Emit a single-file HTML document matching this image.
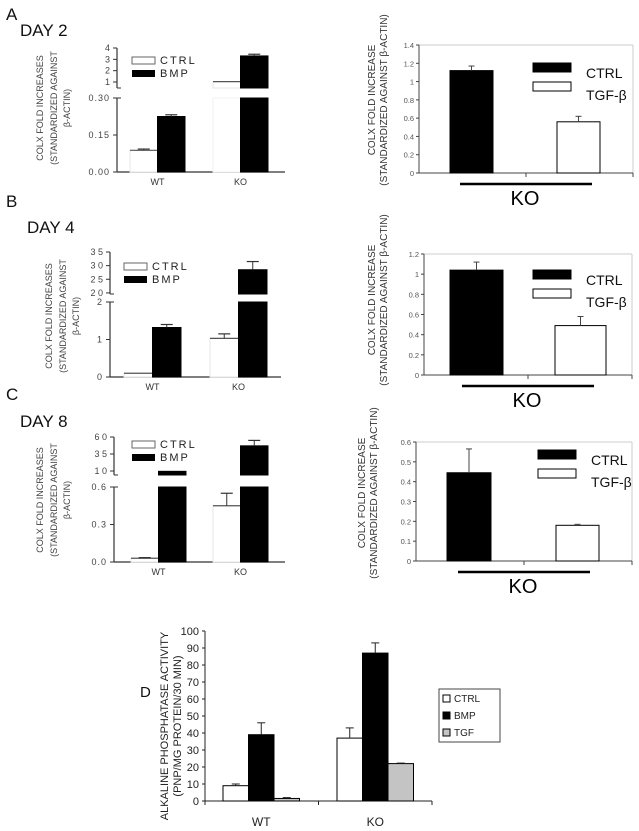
<!DOCTYPE html>
<html><head><meta charset="utf-8">
<style>
html,body{margin:0;padding:0;background:#fff;}
svg{display:block;font-family:"Liberation Sans",Arial,sans-serif;}
</style></head>
<body>
<svg id="fig" width="639" height="831" viewBox="0 0 639 831" xmlns="http://www.w3.org/2000/svg">
  <g fill="#111">
    <text x="6" y="20" font-size="17">A</text>
    <text x="20" y="36" font-size="17">DAY 2</text>
    <text x="6" y="207" font-size="17">B</text>
    <text x="27" y="233" font-size="17">DAY 4</text>
    <text x="6" y="400" font-size="17">C</text>
    <text x="20" y="427" font-size="17">DAY 8</text>
    <text x="140" y="697" font-size="15">D</text>
  </g>
</svg>
<script>
const NS="http://www.w3.org/2000/svg";
const svg=document.getElementById('fig');
function mk(tag,attrs,parent,txt){const e=document.createElementNS(NS,tag);for(const k in attrs)e.setAttribute(k,attrs[k]);if(txt!==undefined)e.textContent=txt;(parent||svg).appendChild(e);return e;}

// ===== Data: left broken-axis charts (COLX, CTRL vs BMP) =====
const leftGroups=["WT","KO"];
const dayA_ctrl=[0.088,1.03]; const dayA_ctrlErr=[0.093,1.05];
const dayA_bmp=[0.225,3.3];   const dayA_bmpErr=[0.232,3.45];
const dayA_lowTicks=[0,0.15,0.30]; const dayA_lowLabels=["0.00","0.15","0.30"];
const dayA_upTicks=[1,2,3,4]; const dayA_upLabels=["1","2","3","4"];
const dayB_ctrl=[0.1,1.03];   const dayB_ctrlErr=[0.11,1.15];
const dayB_bmp=[1.32,28.5];   const dayB_bmpErr=[1.4,31.5];
const dayB_lowTicks=[0,1,2]; const dayB_lowLabels=["0","1","2"];
const dayB_upTicks=[20,25,30,35]; const dayB_upLabels=["2 0","2 5","3 0","3 5"];
const dayC_ctrl=[0.03,0.45];  const dayC_ctrlErr=[0.035,0.55];
const dayC_bmp=[0.95,4.7];    const dayC_bmpErr=[0.95,5.5];
const dayC_lowTicks=[0,0.3,0.6]; const dayC_lowLabels=["0.0","0.3","0.6"];
const dayC_upTicks=[1,3.5,6]; const dayC_upLabels=["1 0","3 5","6 0"];

// ===== Data: right charts (KO, CTRL vs TGF-beta) =====
const rightSeries=["CTRL","TGF-β"];
const rightA_vals=[1.12,0.56]; const rightA_err=[1.17,0.62];
const rightB_vals=[1.04,0.49]; const rightB_err=[1.12,0.58];
const rightC_vals=[0.445,0.18]; const rightC_err=[0.565,0.185];
const rightA_ticks=[0,0.2,0.4,0.6,0.8,1,1.2,1.4];
const rightB_ticks=[0,0.2,0.4,0.6,0.8,1,1.2];
const rightC_ticks=[0,0.1,0.2,0.3,0.4,0.5,0.6];

// ===== Data: panel D (ALP activity) =====
const dGroups=["WT","KO"];
const dCtrl=[9,37]; const dCtrlErr=[10,43];
const dBmp=[39,87]; const dBmpErr=[46,93];
const dTgf=[1.5,22]; const dTgfErr=[2,22.3];
const dTicks=[0,10,20,30,40,50,60,70,80,90,100];

// ---------- left broken-axis chart ----------
function leftChart(name,L,ctrl,ctrlE,bmp,bmpE,lowT,lowL,upT,upL){
  const g=mk('g',{});
  
  
  const yLow=v=>L.y0-(v/L.lowMax)*(L.y0-L.lowTop);
  const yUp=v=>L.upBot-(v-L.upMin)/(L.upMax-L.upMin)*(L.upBot-L.upTop);
  mk('line',{x1:L.ax,y1:L.y0,x2:L.ax,y2:L.lowTop,stroke:'#333','stroke-width':1.2},g);
  mk('line',{x1:L.ax,y1:L.upBot,x2:L.ax,y2:L.upTop,stroke:'#333','stroke-width':1.2},g);
  mk('line',{x1:L.ax,y1:L.lowTop,x2:L.ax+4,y2:L.lowTop,stroke:'#333'},g);
  mk('line',{x1:L.ax,y1:L.upBot,x2:L.ax+4,y2:L.upBot,stroke:'#333'},g);
  mk('line',{x1:L.ax,y1:L.y0,x2:L.xEnd,y2:L.y0,stroke:'#333','stroke-width':1.2},g);
  lowT.forEach((t,i)=>{const y=yLow(t);
    mk('line',{x1:L.ax-4,y1:y,x2:L.ax,y2:y,stroke:'#333'},g);
    const tx=mk('text',{x:L.ax-7,y:y+3,'font-size':9,'text-anchor':'end',fill:'#444','letter-spacing':'1'},g,lowL[i]);
    
    });
  upT.forEach((t,i)=>{const y=yUp(t);
    mk('line',{x1:L.ax-4,y1:y,x2:L.ax,y2:y,stroke:'#333'},g);
    const tx=mk('text',{x:L.ax-7,y:y+3,'font-size':9,'text-anchor':'end',fill:'#444'},g,upL[i]);
    
    });
  function bar(x,v,e,fill,nm){
    const stroke=fill==='#fff'?'#e4e4e4':'#000';
    if(v<=L.lowMax){
      const r=mk('rect',{x:x,y:yLow(v),width:L.bw,height:L.y0-yLow(v),fill:fill,stroke:stroke,'stroke-width':1},g);
      
      
    } else {
      const r=mk('rect',{x:x,y:L.lowTop,width:L.bw,height:L.y0-L.lowTop,fill:fill,stroke:fill==='#fff'?'#f2f2f2':stroke,'stroke-width':1},g);
      
      
      const r2=mk('rect',{x:x,y:yUp(v),width:L.bw,height:Math.max(1,L.upBot-yUp(v)),fill:fill,stroke:stroke,'stroke-width':1},g);
      
      
    }
    const yv=v<=L.lowMax?yLow(v):yUp(v), ye=e<=L.lowMax?yLow(e):yUp(e);
    const cx=x+L.bw/2;
    if(fill==='#fff') mk('line',{x1:x,y1:yv,x2:x+L.bw,y2:yv,stroke:'#555','stroke-width':1.2},g);
    if(ye<yv-0.5){
      mk('line',{x1:cx,y1:yv,x2:cx,y2:ye,stroke:'#333'},g);
      mk('line',{x1:cx-6,y1:ye,x2:cx+6,y2:ye,stroke:'#333','stroke-width':1.2},g);
    }
  }
  leftGroups.forEach((grp,i)=>{
    const x=L.gx[i];
    bar(x,ctrl[i],ctrlE[i],'#fff','bar-ctrl-'+grp.toLowerCase());
    bar(x+L.bw,bmp[i],bmpE[i],'#000','bar-bmp-'+grp.toLowerCase());
    const t=mk('text',{x:x+L.bw,y:L.y0+13,'font-size':9,'text-anchor':'middle',fill:'#333'},g,grp);
    
    
  });
  const lg=mk('g',{},g);
  
  
  mk('rect',{x:L.lx,y:L.ly,width:23,height:7,fill:'#fff',stroke:'#666'},lg);
  mk('text',{x:L.lx+28,y:L.ly+7,'font-size':11,fill:'#222','letter-spacing':'2'},lg,'CTRL');
  mk('rect',{x:L.lx,y:L.ly+13,width:23,height:7,fill:'#000'},lg);
  mk('text',{x:L.lx+28,y:L.ly+20,'font-size':11,fill:'#222','letter-spacing':'2'},lg,'BMP');
  const yl=mk('text',{transform:`translate(${L.ylx},${L.yly}) rotate(-90)`,'font-size':9,'text-anchor':'middle',fill:'#444'},g);
  
  
  mk('tspan',{x:0,y:0},yl,'COLX FOLD INCREASES');
  mk('tspan',{x:0,y:14},yl,'(STANDARDIZED AGAINST');
  mk('tspan',{x:0,y:27},yl,'β-ACTIN)');
}
leftChart('chart-day2-bmp',{ax:117,y0:172,lowTop:98,lowMax:0.30,upBot:88,upTop:48,upMin:0.47,upMax:4,xEnd:285,gx:[130,213],bw:27.5,lx:132,ly:57,ylx:43,yly:108},dayA_ctrl,dayA_ctrlErr,dayA_bmp,dayA_bmpErr,dayA_lowTicks,dayA_lowLabels,dayA_upTicks,dayA_upLabels);
leftChart('chart-day4-bmp',{ax:110,y0:377,lowTop:302,lowMax:2,upBot:294,upTop:252,upMin:19.6,upMax:35,xEnd:281,gx:[124,210],bw:28.5,lx:124,ly:263,ylx:52,yly:316},dayB_ctrl,dayB_ctrlErr,dayB_bmp,dayB_bmpErr,dayB_lowTicks,dayB_lowLabels,dayB_upTicks,dayB_upLabels);
leftChart('chart-day8-bmp',{ax:114,y0:562,lowTop:487,lowMax:0.6,upBot:475,upTop:437,upMin:0.41,upMax:6,xEnd:285,gx:[131,213],bw:27.5,lx:132,ly:441,ylx:43,yly:500},dayC_ctrl,dayC_ctrlErr,dayC_bmp,dayC_bmpErr,dayC_lowTicks,dayC_lowLabels,dayC_upTicks,dayC_upLabels);

// ---------- right charts ----------
function rightChart(name,R,vals,errs,ticks){
  const g=mk('g',{});
  
  
  const y=v=>R.y0-(v/R.max)*(R.y0-R.top);
  mk('line',{x1:R.ax,y1:R.top,x2:R.xEnd,y2:R.top,stroke:'#ccc'},g);
  mk('line',{x1:R.xEnd,y1:R.top,x2:R.xEnd,y2:R.y0,stroke:'#ccc'},g);
  mk('line',{x1:R.ax,y1:R.top,x2:R.ax,y2:R.y0,stroke:'#444'},g);
  mk('line',{x1:R.ax,y1:R.y0,x2:R.xEnd,y2:R.y0,stroke:'#444'},g);
  mk('line',{x1:(R.ax+R.xEnd)/2,y1:R.y0,x2:(R.ax+R.xEnd)/2,y2:R.y0+4,stroke:'#444'},g);
  mk('line',{x1:R.xEnd,y1:R.y0,x2:R.xEnd,y2:R.y0+4,stroke:'#444'},g);
  ticks.forEach(t=>{const yy=y(t);
    mk('line',{x1:R.ax-3,y1:yy,x2:R.ax,y2:yy,stroke:'#444'},g);
    const tx=mk('text',{x:R.ax-5,y:yy+3,'font-size':7.5,'text-anchor':'end',fill:'#555'},g,String(Math.round(t*10)/10));
    
    });
  const fills=['#000','#fff'];
  vals.forEach((v,i)=>{
    const r=mk('rect',{x:R.bx[i],y:y(v),width:R.bw[i],height:R.y0-y(v),fill:fills[i],stroke:'#000','stroke-width':1},g);
    
    
    const cx=R.bx[i]+R.bw[i]/2;
    mk('line',{x1:cx,y1:y(v),x2:cx,y2:y(errs[i]),stroke:'#444'},g);
    mk('line',{x1:cx-3,y1:y(errs[i]),x2:cx+3,y2:y(errs[i]),stroke:'#444'},g);
  });
  const lg=mk('g',{},g);
  
  
  mk('rect',{x:R.lx,y:R.ly,width:38,height:9,fill:'#000',stroke:'#000'},lg);
  mk('text',{x:R.lx+53,y:R.ly+15,'font-size':14,fill:'#111'},lg,rightSeries[0]);
  mk('rect',{x:R.lx,y:R.ly+19,width:38,height:9,fill:'#fff',stroke:'#000'},lg);
  mk('text',{x:R.lx+53,y:R.ly+37,'font-size':14,fill:'#111'},lg,rightSeries[1]);
  const mid=(R.ax+R.xEnd)/2;
  mk('line',{x1:mid-66,y1:R.y0+11,x2:mid+66,y2:R.y0+11,stroke:'#000','stroke-width':2.5},g);
  const ko=mk('text',{x:mid-1,y:R.y0+32,'font-size':20,'text-anchor':'middle',fill:'#000'},g,'KO');
  
  
  const yl=mk('text',{transform:`translate(${R.ylx},${R.yly}) rotate(-90)`,'font-size':10,'text-anchor':'middle',fill:'#333'},g);
  
  
  mk('tspan',{x:0,y:0},yl,'COLX FOLD INCREASE');
  mk('tspan',{x:0,y:12},yl,'(STANDARDIZED AGAINST  β-ACTIN)');
}
rightChart('chart-day2-tgf',{ax:419,top:45,y0:173,max:1.4,xEnd:633,bx:[450,557],bw:[43,43],lx:533,ly:63,ylx:375,yly:100},rightA_vals,rightA_err,rightA_ticks);
rightChart('chart-day4-tgf',{ax:424,top:254,y0:375,max:1.2,xEnd:632,bx:[450,555],bw:[53,51],lx:533,ly:270,ylx:375,yly:300},rightB_vals,rightB_err,rightB_ticks);
rightChart('chart-day8-tgf',{ax:416,top:442,y0:561,max:0.6,xEnd:632,bx:[447,556],bw:[44,43],lx:538,ly:450,ylx:365,yly:493},rightC_vals,rightC_err,rightC_ticks);

// ---------- panel D ----------
(function(){
  const g=mk('g',{});
  
  
  const ax=205,y0=801,top=631,xEnd=432,bw=25.5,gx=[223,337];
  const y=v=>y0-(v/100)*(y0-top);
  mk('line',{x1:ax,y1:top,x2:ax,y2:y0,stroke:'#222'},g);
  mk('line',{x1:ax,y1:y0,x2:xEnd,y2:y0,stroke:'#222'},g);
  [ax,(ax+xEnd)/2,xEnd].forEach(x=>mk('line',{x1:x,y1:y0,x2:x,y2:y0+4,stroke:'#222'},g));
  dTicks.forEach(t=>{const yy=y(t);
    mk('line',{x1:ax-3,y1:yy,x2:ax,y2:yy,stroke:'#222'},g);
    const tx=mk('text',{x:ax-6,y:yy+4,'font-size':11,'text-anchor':'end',fill:'#222'},g,String(t));
    
    });
  const series=[[dCtrl,dCtrlErr,'#fff','ctrl'],[dBmp,dBmpErr,'#000','bmp'],[dTgf,dTgfErr,'#c4c4c4','tgf']];
  dGroups.forEach((grp,i)=>{
    series.forEach((s,j)=>{
      const x=gx[i]+j*bw, v=s[0][i], e=s[1][i];
      const r=mk('rect',{x:x,y:y(v),width:bw,height:y0-y(v),fill:s[2],stroke:'#000','stroke-width':1},g);
      
      
      const cx=x+bw/2;
      mk('line',{x1:cx,y1:y(v),x2:cx,y2:y(e),stroke:'#222'},g);
      mk('line',{x1:cx-4,y1:y(e),x2:cx+4,y2:y(e),stroke:'#222'},g);
    });
    const t=mk('text',{x:gx[i]+bw*1.5,y:826,'font-size':12,'text-anchor':'middle',fill:'#222'},g,grp);
    
    
  });
  const lg=mk('g',{},g);
  
  
  mk('rect',{x:439,y:689,width:61,height:53,fill:'#fff',stroke:'#444'},lg);
  const names=['CTRL','BMP','TGF'], fl=['#fff','#000','#c4c4c4'];
  names.forEach((n,k)=>{
    mk('rect',{x:443,y:695+k*17,width:7,height:7,fill:fl[k],stroke:'#000'},lg);
    mk('text',{x:454,y:702+k*17,'font-size':10,fill:'#222'},lg,n);
  });
  const yl=mk('text',{transform:'translate(168,726) rotate(-90)','font-size':11,'text-anchor':'middle',fill:'#222'},g);
  
  
  mk('tspan',{x:0,y:0},yl,'ALKALINE PHOSPHATASE ACTIVITY');
  mk('tspan',{x:0,y:13},yl,'(PNP/MG PROTEIN/30 MIN)');
})();
</script>
</body></html>
